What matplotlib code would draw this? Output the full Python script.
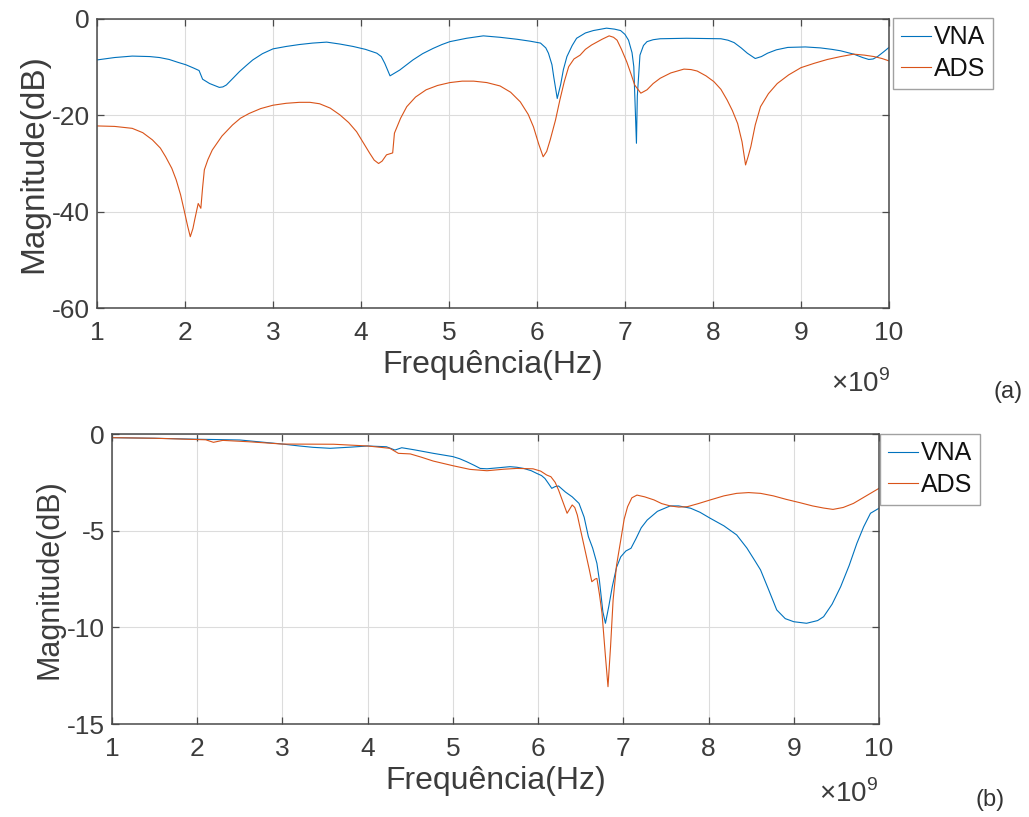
import matplotlib
matplotlib.use("Agg")
import matplotlib.pyplot as plt

plt.rcParams['font.family'] = ['Liberation Sans', 'DejaVu Sans']
plt.rcParams['axes.unicode_minus'] = False
plt.rcParams['mathtext.fontset'] = 'custom'
plt.rcParams['mathtext.rm'] = 'Liberation Sans'

# ---------------- data (frequency in GHz, magnitude in dB) ----------------
# (a) top panel
f_vna_a = [1.00, 1.20, 1.40, 1.60, 1.71, 1.82, 1.92, 2.01, 2.10, 2.16, 2.20, 2.28,
           2.39, 2.43, 2.47, 2.54, 2.62, 2.70, 2.77, 2.88, 3.00, 3.15, 3.30, 3.45,
           3.61, 3.76, 3.91, 4.05, 4.18, 4.23, 4.27, 4.33, 4.44, 4.59, 4.70, 4.82,
           4.92, 5.01, 5.20, 5.39, 5.58, 5.77, 5.92, 6.04, 6.10, 6.13, 6.17, 6.19,
           6.23, 6.27, 6.30, 6.34, 6.40, 6.45, 6.55, 6.64, 6.79, 6.88, 6.95, 7.00,
           7.04, 7.08, 7.10, 7.13, 7.14, 7.17, 7.21, 7.25, 7.32, 7.40, 7.70, 8.09,
           8.17, 8.24, 8.32, 8.39, 8.48, 8.55, 8.62, 8.72, 8.85, 9.05, 9.22, 9.35,
           9.45, 9.60, 9.70, 9.77, 9.82, 9.87, 9.94, 10.00]
m_vna_a = [-8.5, -8.0, -7.7, -7.8, -8.0, -8.4, -9.0, -9.5, -10.2, -10.7, -12.5, -13.4,
           -14.2, -14.1, -13.7, -12.4, -10.9, -9.6, -8.5, -7.2, -6.2, -5.7, -5.3, -5.0,
           -4.8, -5.2, -5.7, -6.3, -7.1, -7.8, -9.2, -11.8, -10.6, -8.5, -7.2, -6.1,
           -5.3, -4.7, -4.0, -3.5, -3.8, -4.2, -4.6, -5.0, -6.0, -7.1, -9.5, -12.0,
           -16.5, -13.5, -10.5, -7.8, -5.5, -4.0, -2.9, -2.4, -1.9, -2.1, -2.4, -3.2,
           -4.4, -7.0, -9.9, -25.8, -16.0, -7.5, -5.5, -4.7, -4.3, -4.1, -4.0, -4.1,
           -4.4, -4.9, -6.0, -7.1, -8.2, -7.8, -7.1, -6.4, -5.9, -5.8, -6.0, -6.3,
           -6.6, -7.3, -8.0, -8.4, -8.3, -7.8, -6.8, -5.9]

f_ads_a = [1.00, 1.20, 1.40, 1.52, 1.63, 1.72, 1.78, 1.85, 1.90, 1.95, 1.99, 2.03,
           2.06, 2.09, 2.11, 2.15, 2.18, 2.20, 2.22, 2.26, 2.31, 2.42, 2.54, 2.63,
           2.73, 2.86, 3.00, 3.15, 3.30, 3.42, 3.53, 3.65, 3.76, 3.86, 3.95, 4.03,
           4.10, 4.15, 4.20, 4.24, 4.29, 4.36, 4.38, 4.45, 4.52, 4.62, 4.74, 4.87,
           5.01, 5.15, 5.28, 5.43, 5.58, 5.70, 5.81, 5.90, 5.96, 6.02, 6.07, 6.11,
           6.15, 6.21, 6.26, 6.31, 6.36, 6.42, 6.49, 6.55, 6.62, 6.68, 6.74, 6.82,
           6.87, 6.91, 6.96, 7.02, 7.07, 7.11, 7.18, 7.25, 7.32, 7.40, 7.52, 7.67,
           7.75, 7.82, 7.92, 8.01, 8.09, 8.16, 8.22, 8.28, 8.33, 8.37, 8.40, 8.43,
           8.48, 8.54, 8.63, 8.73, 8.86, 9.00, 9.15, 9.30, 9.45, 9.60, 9.72, 9.83,
           9.92, 10.00]
m_ads_a = [-22.2, -22.3, -22.7, -23.6, -25.1, -26.8, -28.6, -31.0, -33.4, -36.5, -39.7, -43.0,
           -45.2, -43.5, -41.7, -38.3, -39.3, -35.0, -31.3, -29.2, -27.2, -24.3, -22.0, -20.6,
           -19.6, -18.6, -17.9, -17.5, -17.3, -17.3, -17.6, -18.5, -19.9, -21.5, -23.4, -25.8,
           -27.9, -29.3, -30.0, -29.5, -28.2, -27.8, -23.7, -20.6, -18.2, -16.2, -14.7, -13.8,
           -13.2, -12.9, -12.9, -13.2, -13.9, -15.2, -17.2, -19.8, -22.4, -26.0, -28.6, -27.5,
           -25.1, -21.0, -16.8, -13.0, -9.9, -8.3, -7.5, -6.3, -5.4, -4.8, -4.2, -3.5,
           -3.8, -4.4, -6.3, -8.9, -11.5, -13.7, -15.4, -14.7, -13.4, -12.3, -11.2, -10.4,
           -10.5, -10.8, -11.8, -13.0, -14.6, -16.8, -19.0, -21.7, -25.5, -30.3, -28.5, -26.5,
           -22.0, -18.2, -15.5, -13.4, -11.6, -10.1, -9.2, -8.4, -7.8, -7.3, -7.5, -7.8,
           -8.2, -8.7]

# (b) bottom panel
f_vna_b = [1.00, 1.50, 2.00, 2.50, 3.00, 3.20, 3.36, 3.56, 3.80, 4.00, 4.22, 4.32,
           4.40, 4.55, 4.77, 5.00, 5.08, 5.16, 5.25, 5.32, 5.40, 5.55, 5.67, 5.75,
           5.83, 5.92, 5.98, 6.04, 6.08, 6.12, 6.16, 6.20, 6.24, 6.32, 6.40, 6.48,
           6.54, 6.59, 6.64, 6.69, 6.72, 6.76, 6.79, 6.83, 6.87, 6.92, 6.97, 7.03,
           7.09, 7.15, 7.21, 7.28, 7.40, 7.55, 7.65, 7.79, 7.90, 8.02, 8.18, 8.33,
           8.45, 8.55, 8.61, 8.70, 8.80, 8.90, 9.00, 9.15, 9.28, 9.35, 9.45, 9.55,
           9.65, 9.74, 9.82, 9.90, 10.00]
m_vna_b = [-0.19, -0.22, -0.27, -0.31, -0.52, -0.62, -0.69, -0.74, -0.68, -0.62, -0.66, -0.83,
           -0.71, -0.82, -1.00, -1.17, -1.28, -1.43, -1.62, -1.78, -1.80, -1.74, -1.69, -1.72,
           -1.78, -1.90, -2.03, -2.15, -2.30, -2.55, -2.81, -2.72, -2.69, -3.00, -3.25, -3.59,
           -4.30, -5.31, -5.90, -6.69, -7.60, -9.20, -9.79, -8.90, -7.90, -6.90, -6.35, -6.05,
           -5.91, -5.40, -4.85, -4.45, -4.00, -3.72, -3.72, -3.84, -4.05, -4.36, -4.75, -5.22,
           -5.90, -6.60, -7.03, -8.00, -9.10, -9.55, -9.71, -9.79, -9.65, -9.45, -8.80, -7.90,
           -6.80, -5.66, -4.80, -4.10, -3.84]

f_ads_b = [1.00, 1.50, 2.10, 2.19, 2.30, 2.60, 3.00, 3.60, 4.00, 4.26, 4.36, 4.50,
           4.63, 4.77, 5.00, 5.20, 5.40, 5.60, 5.75, 5.94, 6.03, 6.10, 6.15, 6.20,
           6.24, 6.29, 6.34, 6.40, 6.43, 6.46, 6.50, 6.55, 6.60, 6.63, 6.67, 6.69,
           6.72, 6.75, 6.79, 6.82, 6.85, 6.88, 6.92, 6.97, 7.01, 7.05, 7.10, 7.16,
           7.25, 7.36, 7.45, 7.55, 7.65, 7.75, 7.88, 8.02, 8.18, 8.33, 8.47, 8.61,
           8.76, 8.91, 9.07, 9.22, 9.35, 9.46, 9.58, 9.70, 9.85, 10.00]
m_ads_b = [-0.19, -0.22, -0.30, -0.43, -0.33, -0.40, -0.52, -0.53, -0.62, -0.74, -1.00, -1.03,
           -1.20, -1.40, -1.64, -1.83, -1.90, -1.82, -1.78, -1.80, -1.92, -2.12, -2.21, -2.50,
           -2.90, -3.50, -4.10, -3.67, -3.80, -4.19, -5.00, -6.00, -7.00, -7.64, -7.50, -7.47,
           -8.30, -9.28, -11.50, -13.07, -11.00, -8.59, -6.80, -5.48, -4.40, -3.76, -3.30, -3.16,
           -3.25, -3.41, -3.60, -3.72, -3.78, -3.76, -3.60, -3.41, -3.20, -3.07, -3.03, -3.07,
           -3.20, -3.38, -3.55, -3.72, -3.83, -3.90, -3.80, -3.59, -3.20, -2.81]

x_ticks = [1, 2, 3, 4, 5, 6, 7, 8, 9, 10]
y_ticks_a = [-60, -40, -20, 0]
y_ticks_b = [-15, -10, -5, 0]
series_labels = ['VNA', 'ADS']
panel_labels = ['(a)', '(b)']

# ---------------- styling ----------------
C_VNA = '#0072BD'
C_ADS = '#D95319'
AX_C = '#4a4a4a'
TXT_C = '#3c3c3c'
W, H = 1029, 817

fig = plt.figure(figsize=(W / 100, H / 100), dpi=100)
fig.patch.set_facecolor('white')

ax_a = fig.add_axes([97 / W, 1 - 308 / H, (889 - 97) / W, (308 - 19) / H])
ax_b = fig.add_axes([112 / W, 1 - 724 / H, (879 - 112) / W, (724 - 434) / H])


def style(ax, yticks, ylab_size):
    ax.set_xlim(1, 10)
    ax.set_ylim(yticks[0], yticks[-1])
    ax.set_xticks(x_ticks)
    ax.set_yticks(yticks)
    ax.set_xticklabels([str(t) for t in x_ticks])
    ax.set_yticklabels([str(t) for t in yticks])
    ax.grid(True, color='#dcdcdc', linewidth=0.8)
    ax.set_axisbelow(True)
    for s in ax.spines.values():
        s.set_color(AX_C)
        s.set_linewidth(1.1)
    ax.tick_params(axis='both', direction='in', length=5, width=0.9, color=AX_C,
                   labelcolor=TXT_C, labelsize=19, top=True, right=True)
    ax.tick_params(axis='x', pad=9)
    ax.tick_params(axis='y', pad=5)
    ax.set_xlabel('Frequência(Hz)', fontsize=23, color=TXT_C, labelpad=4)
    ax.set_ylabel('Magnitude(dB)', fontsize=ylab_size, color=TXT_C, labelpad=2)


ax_a.plot(f_vna_a, m_vna_a, color=C_VNA, lw=0.8, label=series_labels[0])
ax_a.plot(f_ads_a, m_ads_a, color=C_ADS, lw=0.8, label=series_labels[1])
style(ax_a, y_ticks_a, 24)

ax_b.plot(f_vna_b, m_vna_b, color=C_VNA, lw=0.8, label=series_labels[0])
ax_b.plot(f_ads_b, m_ads_b, color=C_ADS, lw=0.8, label=series_labels[1])
style(ax_b, y_ticks_b, 22)


def legend(ax, x, y):
    lg = ax.legend(loc='upper left', bbox_to_anchor=(x / W, 1 - y / H),
                   bbox_transform=fig.transFigure, borderaxespad=0,
                   fontsize=18, frameon=True, fancybox=False, handlelength=1.2,
                   handletextpad=0.15, borderpad=0.3, labelspacing=0.3)
    lg.get_frame().set_edgecolor('#8a8a8a')
    lg.get_frame().set_linewidth(1.0)
    for t in lg.get_texts():
        t.set_color('#111111')


legend(ax_a, 893, 18)
legend(ax_b, 880, 434)

fig.text(890 / W, 1 - 392 / H, r'×10$^{9}$', ha='right', va='baseline',
         fontsize=20, color=TXT_C)
fig.text(878 / W, 1 - 802 / H, r'×10$^{9}$', ha='right', va='baseline',
         fontsize=20, color=TXT_C)
fig.text(1008 / W, 1 - 392 / H, panel_labels[0], ha='center', va='center',
         fontsize=17, color='#333333')
fig.text(990 / W, 1 - 800 / H, panel_labels[1], ha='center', va='center',
         fontsize=17, color='#333333')

fig.savefig('out.png', dpi=100, facecolor='white')
